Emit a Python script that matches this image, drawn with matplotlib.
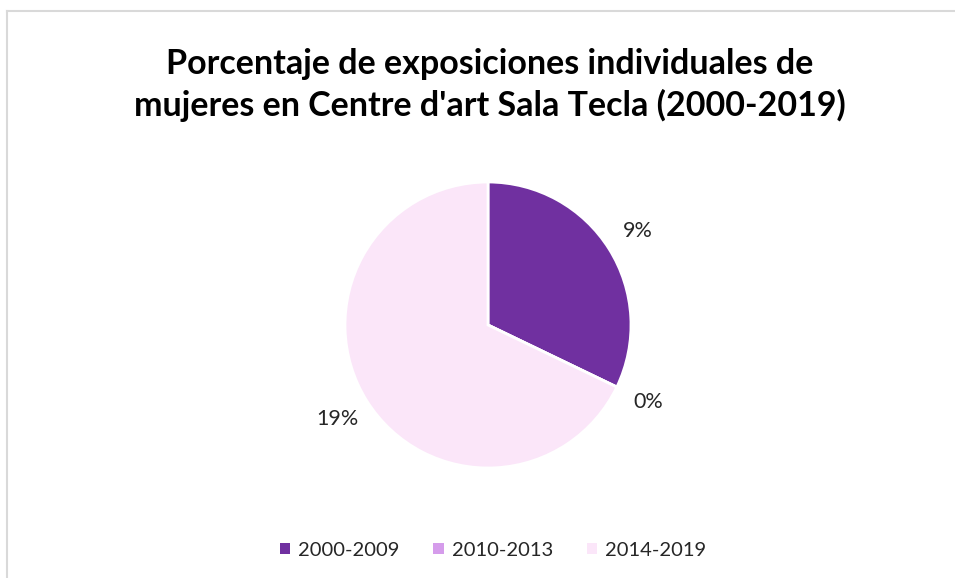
import matplotlib
matplotlib.use("Agg")
import matplotlib.pyplot as plt
from matplotlib.lines import Line2D
from matplotlib.patches import Rectangle

categories = ["2000-2009", "2010-2013", "2014-2019"]
values = [9, 0, 19]
colors = ["#7030A0", "#D59CEB", "#FBE6F9"]
title = "Porcentaje de exposiciones individuales de\nmujeres en Centre d'art Sala Tecla (2000-2019)"

W, H = 955, 578
fig = plt.figure(figsize=(W / 100, H / 100), dpi=100)
fig.patch.set_facecolor("white")

# chart border (top and left visible)
fig.add_artist(Line2D([6.5 / W, 6.5 / W], [0, 1 - 10.5 / H], color="#D9D9D9", lw=1.5))
fig.add_artist(Line2D([6.5 / W, 1], [1 - 10.5 / H, 1 - 10.5 / H], color="#D9D9D9", lw=1.5))

fig.text(490 / W, 1 - 85 / H, title, ha="center", va="center",
         fontsize=24.5, fontweight="bold", family=["Lato", "DejaVu Sans"],
         linespacing=1.35, color="#000000")

cx, cy, r = 488, 325, 143
ax = fig.add_axes([(cx - r) / W, (H - cy - r) / H, 2 * r / W, 2 * r / H])
wedges, texts = ax.pie(values, colors=colors, startangle=90, counterclock=False,
                       labels=[f"{v}%" for v in values], labeldistance=1.24,
                       wedgeprops=dict(edgecolor="white", linewidth=2),
                       textprops=dict(fontsize=15.5, family=["Lato", "DejaVu Sans"], color="#262626"))
for t in texts:
    t.set_ha("center")
    t.set_va("center")
ax.set_xlim(-1, 1)
ax.set_ylim(-1, 1)
ax.set_aspect("equal")
ax.axis("off")

handles = [Rectangle((0, 0), 1, 1, facecolor=c, edgecolor="none") for c in colors]
fig.legend(handles, categories, loc="center", bbox_to_anchor=(493 / W, 1 - 550 / H),
           ncol=3, frameon=False, handlelength=0.5, handleheight=0.5,
           handletextpad=0.4, columnspacing=1.7,
           prop=dict(size=14.5, family=["Lato", "DejaVu Sans"]), labelcolor="#262626")

fig.savefig("out.png", dpi=100, facecolor="white")
